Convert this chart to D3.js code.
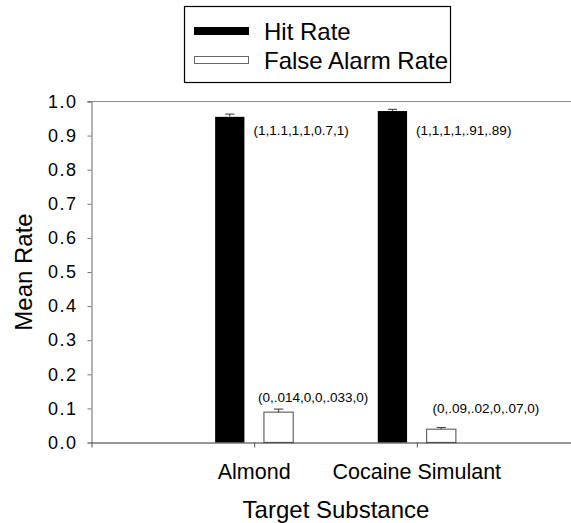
<!DOCTYPE html>
<html>
<head>
<meta charset="utf-8">
<script src="https://cdn.jsdelivr.net/npm/d3@7/dist/d3.min.js"></script>
<style>
  html, body { margin: 0; padding: 0; background: #fff; }
  svg { display: block; font-family: Arial, "Liberation Sans", Helvetica, sans-serif; }
</style>
</head>
<body>
<svg id="chart" width="571" height="523"></svg>
<script>
// Target substances (x categories) and series
const categories = ["Almond", "Cocaine Simulant"];
const seriesNames = ["Hit Rate", "False Alarm Rate"];
const hitRate = [0.955, 0.972];
const hitErr = [0.008, 0.005];
const falseAlarmRate = [0.089, 0.039];
const falseAlarmErr = [0.009, 0.005];
const hitNotes = ["(1,1.1,1,1,0.7,1)", "(1,1,1,1,.91,.89)"];
const falseAlarmNotes = ["(0,.014,0,0,.033,0)", "(0,.09,.02,0,.07,0)"];
const yTicks = [0, 0.1, 0.2, 0.3, 0.4, 0.5, 0.6, 0.7, 0.8, 0.9, 1.0];

const svg = d3.select("#chart");

// Categories sit at positions 1 and 2 on a 0..3 axis
const x = d3.scaleLinear().domain([0, 3]).range([91.5, 579.5]);
const y = d3.scaleLinear().domain([0, 1]).range([442.5, 101.5]);

const groups = categories.map((c, i) => ({
  name: c, pos: i + 1,
  hit: hitRate[i], hitErr: hitErr[i],
  fa: falseAlarmRate[i], faErr: falseAlarmErr[i],
  hitNote: hitNotes[i], faNote: falseAlarmNotes[i]
}));

// Top frame line at 1.0
svg.append("line")
  .attr("x1", x(0) - 4).attr("x2", 571)
  .attr("y1", y(1)).attr("y2", y(1))
  .attr("stroke", "#8a8a8a").attr("stroke-width", 1.2);

// Y axis
const yAxis = svg.append("g")
  .attr("transform", `translate(${x(0)},0)`)
  .call(d3.axisLeft(y).tickValues(yTicks).tickFormat(d3.format(".1f")).tickSize(4).tickPadding(10));
yAxis.select(".domain").attr("stroke", "#777").attr("stroke-width", 1.1);
yAxis.selectAll(".tick line").attr("stroke", "#777");
yAxis.selectAll(".tick text")
  .attr("font-size", 18).attr("fill", "#000")
  .attr("letter-spacing", "1.5px")
  .style("font-family", "Arial, 'Liberation Sans', sans-serif");

// Bars
const barW = 0.18, gap = 0.06;
const hitBars = svg.append("g");
hitBars.selectAll("rect").data(groups).join("rect")
  .attr("x", d => x(d.pos - gap - barW))
  .attr("width", d => x(d.pos - gap) - x(d.pos - gap - barW))
  .attr("y", d => y(d.hit))
  .attr("height", d => y(0) - y(d.hit))
  .attr("fill", "#000");

const faBars = svg.append("g");
faBars.selectAll("rect").data(groups).join("rect")
  .attr("x", d => x(d.pos + gap))
  .attr("width", d => x(d.pos + gap + barW) - x(d.pos + gap))
  .attr("y", d => y(d.fa))
  .attr("height", d => y(0) - y(d.fa))
  .attr("fill", "#fff")
  .attr("stroke", "#666").attr("stroke-width", 1.2);

// Upper error bars with caps
const capHalf = 0.028;
function errorBars(getCenter, getVal, getErr) {
  const g = svg.append("g").attr("stroke", "#444").attr("stroke-width", 1.1);
  g.selectAll("line.v").data(groups).join("line").attr("class", "v")
    .attr("x1", d => x(getCenter(d))).attr("x2", d => x(getCenter(d)))
    .attr("y1", d => y(getVal(d))).attr("y2", d => y(getVal(d) + getErr(d)));
  g.selectAll("line.c").data(groups).join("line").attr("class", "c")
    .attr("x1", d => x(getCenter(d) - capHalf)).attr("x2", d => x(getCenter(d) + capHalf))
    .attr("y1", d => y(getVal(d) + getErr(d))).attr("y2", d => y(getVal(d) + getErr(d)));
}
errorBars(d => d.pos - gap - barW / 2, d => d.hit, d => d.hitErr);
errorBars(d => d.pos + gap + barW / 2, d => d.fa, d => d.faErr);

// X axis
const xAxis = svg.append("g")
  .attr("transform", `translate(0,${y(0)})`)
  .call(d3.axisBottom(x).tickValues([0, 1, 2, 3]).tickFormat("").tickSize(5).tickSizeOuter(0));
xAxis.select(".domain").attr("stroke", "#333").attr("stroke-width", 1.2);
xAxis.selectAll(".tick line").attr("stroke", "#555");

svg.append("g").selectAll("text").data(groups).join("text")
  .attr("x", d => x(d.pos))
  .attr("y", 479)
  .attr("text-anchor", "middle")
  .attr("font-size", 21.5)
  .text(d => d.name);

// Per-bar count annotations
svg.append("g").selectAll("text").data(groups).join("text")
  .attr("x", d => x(d.pos - gap) + 9)
  .attr("y", 134.5)
  .attr("font-size", 13.5)
  .text(d => d.hitNote);
const faNoteOffsets = [{ dx: -6, y: 402 }, { dx: 6, y: 413 }];
svg.append("g").selectAll("text").data(groups).join("text")
  .attr("x", (d, i) => x(d.pos + gap) + faNoteOffsets[i].dx)
  .attr("y", (d, i) => faNoteOffsets[i].y)
  .attr("font-size", 13.5)
  .text(d => d.faNote);

// Axis titles
svg.append("text")
  .attr("transform", "translate(32,272) rotate(-90)")
  .attr("text-anchor", "middle")
  .attr("font-size", 24)
  .text("Mean Rate");
svg.append("text")
  .attr("x", 336).attr("y", 518)
  .attr("text-anchor", "middle")
  .attr("font-size", 24)
  .text("Target Substance");

// Legend
const legend = svg.append("g");
legend.append("rect")
  .attr("x", 184.5).attr("y", 6.5).attr("width", 266).attr("height", 76)
  .attr("fill", "#fff").attr("stroke", "#000").attr("stroke-width", 1.2);
const legendItems = [
  { name: seriesNames[0], fill: "#000", stroke: "#000", y: 31 },
  { name: seriesNames[1], fill: "#fff", stroke: "#666", y: 60 }
];
legendItems.forEach(it => {
  legend.append("rect")
    .attr("x", 194.5).attr("y", it.y - 3.5).attr("width", 54).attr("height", 7)
    .attr("fill", it.fill).attr("stroke", it.stroke).attr("stroke-width", 1);
  legend.append("text")
    .attr("x", 264).attr("y", it.y + 8.5)
    .attr("font-size", 24)
    .text(it.name);
});
</script>
</body>
</html>
